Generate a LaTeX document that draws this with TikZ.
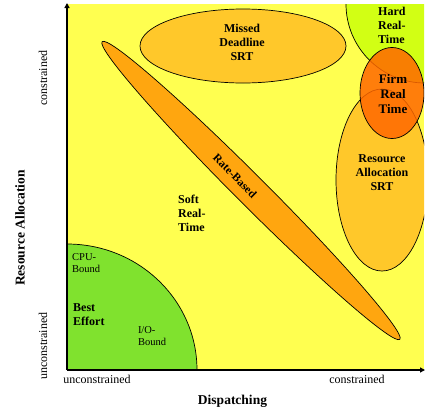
\documentclass[tikz,border=0pt]{standalone}
\usepackage{fontspec}
\setmainfont{Liberation Serif}
\usetikzlibrary{shapes.geometric,arrows.meta}
\definecolor{bgyellow}{RGB}{255,255,80}
\definecolor{bestgreen}{RGB}{128,226,46}
\definecolor{hardgreen}{RGB}{210,255,20}
\definecolor{gold}{RGB}{255,200,42}
\definecolor{rateorange}{RGB}{255,166,15}
\definecolor{firmorange}{RGB}{255,104,0}
\begin{document}
\begin{tikzpicture}[x=1pt,y=-1pt,
  outl/.style={draw=black, line width=0.7pt},
  lbl/.style={font=\bfseries\fontsize{12}{14}\selectfont, align=center, inner sep=0pt},
  firmlbl/.style={font=\bfseries\fontsize{13}{15}\selectfont, align=center, inner sep=0pt},
  smalllbl/.style={font=\fontsize{10.5}{12}\selectfont, align=left, inner sep=0pt},
  ticklbl/.style={font=\fontsize{12}{14}\selectfont, inner sep=0pt},
  axlbl/.style={font=\bfseries\fontsize{13.5}{16}\selectfont, inner sep=0pt},
  axis/.style={line width=1.8pt, -{Triangle[length=5pt,width=5pt]}}]
\useasboundingbox (0,0) rectangle (425,413);
\fill[white] (0,0) rectangle (425,413);
\begin{scope}
  \clip (68,4) rectangle (424,370);
  \fill[bgyellow] (68,4) rectangle (424,370);
  \draw[outl, fill=bestgreen] (67,370) ellipse [x radius=130, y radius=126];
  \draw[outl, fill=hardgreen] (425,4) circle [radius=79];
  \draw[outl, fill=gold] (243,46) ellipse [x radius=103, y radius=37];
  \draw[outl, fill=gold] (382,180) ellipse [x radius=46, y radius=91];
  \node[ellipse, outl, fill=rateorange, minimum width=421pt, minimum height=30pt, rotate=-45, inner sep=0pt] (rate) at (251,190.5) {};
  \draw[outl, fill=firmorange, fill opacity=0.85] (392,93) ellipse [x radius=32, y radius=45.5];
\end{scope}
\coordinate (O) at (67,370);
\coordinate (ytop) at (67,3);
\coordinate (xend) at (425,370);
\draw[axis] (O) -- (ytop);
\draw[axis] (O) -- (xend);
\node[lbl] (missed) at (242,42) {Missed\\Deadline\\SRT};
\node[lbl, align=left, anchor=west] (hard) at (378,25) {Hard\\Real-\\Time};
\node[firmlbl] (firm) at (393,94) {Firm\\Real\\Time};
\node[lbl] (ralloc) at (382,173) {Resource\\Allocation\\SRT};
\node[lbl, align=left, anchor=west] (soft) at (178,213) {Soft\\Real-\\Time};
\node[font=\bfseries\fontsize{11.5}{14}\selectfont, inner sep=0pt, rotate=-45] (ratelbl) at (235,176) {Rate-Based};
\node[smalllbl, anchor=west] (cpu) at (72,263) {CPU-\\Bound};
\node[lbl, align=left, anchor=west] (best) at (73,315) {Best\\Effort};
\node[smalllbl] (io) at (152,336) {I/O-\\Bound};
\node[axlbl] (disp) at (232.5,401) {Dispatching};
\node[axlbl, rotate=90] (resalloc) at (20,228) {Resource Allocation};
\node[ticklbl] (xlo) at (97,379) {unconstrained};
\node[ticklbl] (xhi) at (357,379) {constrained};
\node[ticklbl, rotate=90] (yhi) at (43,78) {constrained};
\node[ticklbl, rotate=90] (ylo) at (43,346) {unconstrained};
\end{tikzpicture}
\end{document}
